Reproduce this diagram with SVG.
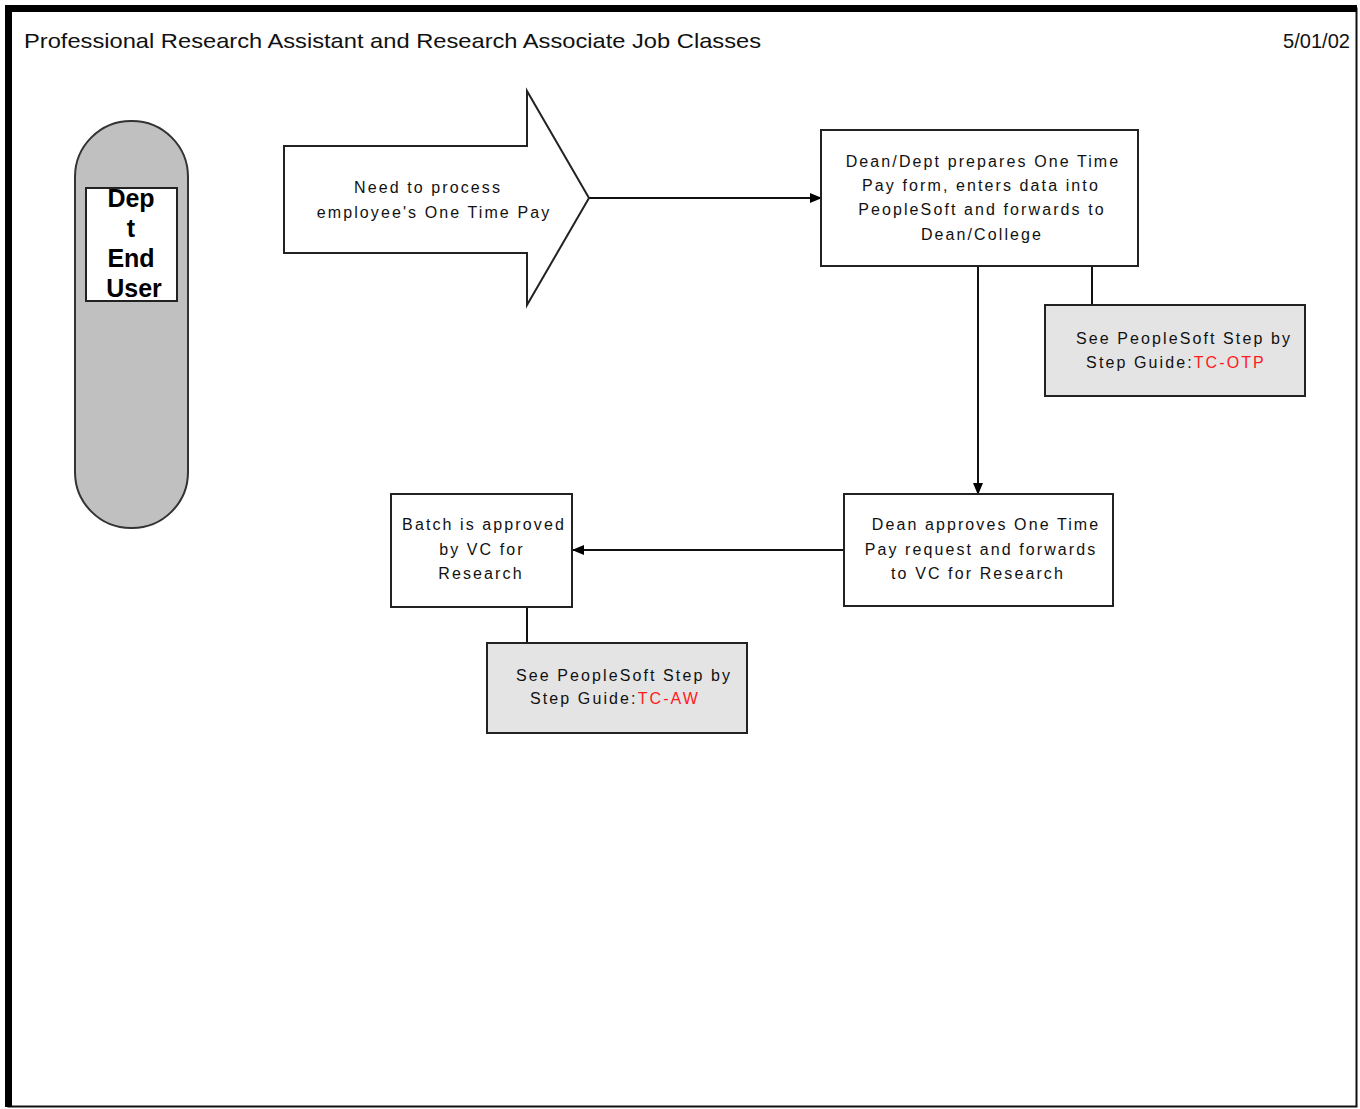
<svg xmlns="http://www.w3.org/2000/svg" width="1360" height="1109" viewBox="0 0 1360 1109">
  <style>
    .box { fill: #ffffff; stroke: #222222; stroke-width: 2; }
    .note { fill: #e4e4e4; stroke: #222222; stroke-width: 2; }
    .lbl { font-family: "Liberation Sans", Arial, sans-serif; font-size: 16px; letter-spacing: 2.1px; fill: #111111; text-anchor: middle; }
    .lnk { fill: #ff1a1a; }
    .edge { stroke: #111111; stroke-width: 2; fill: none; }
    .title { font-family: "Liberation Sans", Arial, sans-serif; font-size: 21px; fill: #111111; }
    .actor { font-family: "Liberation Sans", Arial, sans-serif; font-size: 25px; font-weight: bold; fill: #000000; text-anchor: middle; }
  </style>
  <defs>
    <marker id="head" viewBox="0 0 12 10" refX="11" refY="5" markerWidth="12" markerHeight="10" markerUnits="userSpaceOnUse" orient="auto">
      <path d="M0,0 L12,5 L0,10 Z" fill="#000000"/>
    </marker>
  </defs>

  <rect width="1360" height="1109" fill="#ffffff"/>

  <!-- page frame -->
  <g id="frame">
    <rect x="8.5" y="8.5" width="1348" height="1098" fill="none" stroke="#111111" stroke-width="2"/>
    <rect x="5" y="5" width="1352" height="7" fill="#000000"/>
    <rect x="5" y="5" width="7" height="1102" fill="#000000"/>
  </g>

  <g id="header">
    <text class="title" x="24" y="48" textLength="737" lengthAdjust="spacingAndGlyphs">Professional Research Assistant and Research Associate Job Classes</text>
    <text class="title" x="1283" y="48" font-size="18" textLength="67" lengthAdjust="spacingAndGlyphs">5/01/02</text>
  </g>

  <!-- swimlane actor -->
  <g id="actor">
    <rect x="75" y="121" width="113" height="407" rx="56" ry="56" fill="#c0c0c0" stroke="#333333" stroke-width="2"/>
    <rect x="86" y="188" width="91" height="113" fill="#ffffff" stroke="#222222" stroke-width="2"/>
    <text class="actor" x="131" y="207">Dep</text>
    <text class="actor" x="131" y="237">t</text>
    <text class="actor" x="131" y="267">End</text>
    <text class="actor" x="134" y="297">User</text>
  </g>

  <!-- connectors -->
  <g id="connectors">
    <line class="edge" x1="589" y1="198" x2="821" y2="198" marker-end="url(#head)"/>
    <line class="edge" x1="978" y1="266" x2="978" y2="494" marker-end="url(#head)"/>
    <line class="edge" x1="844" y1="550" x2="573" y2="550" marker-end="url(#head)"/>
    <line class="edge" x1="1092" y1="266" x2="1092" y2="305"/>
    <line class="edge" x1="527" y1="607" x2="527" y2="643"/>
  </g>

  <g id="start">
    <polygon class="box" points="284,146 527,146 527,91 589,198 527,305 527,253 284,253"/>
    <text class="lbl" x="428" y="193">Need to process</text>
    <text class="lbl" x="434" y="218">employee's One Time Pay</text>
  </g>

  <g id="prepare">
    <rect class="box" x="821" y="130" width="317" height="136"/>
    <text class="lbl" x="983" y="167">Dean/Dept prepares One Time</text>
    <text class="lbl" x="981" y="191">Pay form, enters data into</text>
    <text class="lbl" x="982" y="215">PeopleSoft and forwards to</text>
    <text class="lbl" x="982" y="240">Dean/College</text>
  </g>

  <g id="guide-otp">
    <rect class="note" x="1045" y="305" width="260" height="91"/>
    <text class="lbl" x="1184" y="344">See PeopleSoft Step by</text>
    <text class="lbl" x="1176" y="368">Step Guide:<tspan class="lnk">TC-OTP</tspan></text>
  </g>

  <g id="dean-approves">
    <rect class="box" x="844" y="494" width="269" height="112"/>
    <text class="lbl" x="986" y="530">Dean approves One Time</text>
    <text class="lbl" x="981" y="555">Pay request and forwards</text>
    <text class="lbl" x="978" y="579">to VC for Research</text>
  </g>

  <g id="batch-approved">
    <rect class="box" x="391" y="494" width="181" height="113"/>
    <text class="lbl" x="484" y="530">Batch is approved</text>
    <text class="lbl" x="482" y="555">by VC for</text>
    <text class="lbl" x="481" y="579">Research</text>
  </g>

  <g id="guide-aw">
    <rect class="note" x="487" y="643" width="260" height="90"/>
    <text class="lbl" x="624" y="681">See PeopleSoft Step by</text>
    <text class="lbl" x="615" y="704">Step Guide:<tspan class="lnk">TC-AW</tspan></text>
  </g>
</svg>
